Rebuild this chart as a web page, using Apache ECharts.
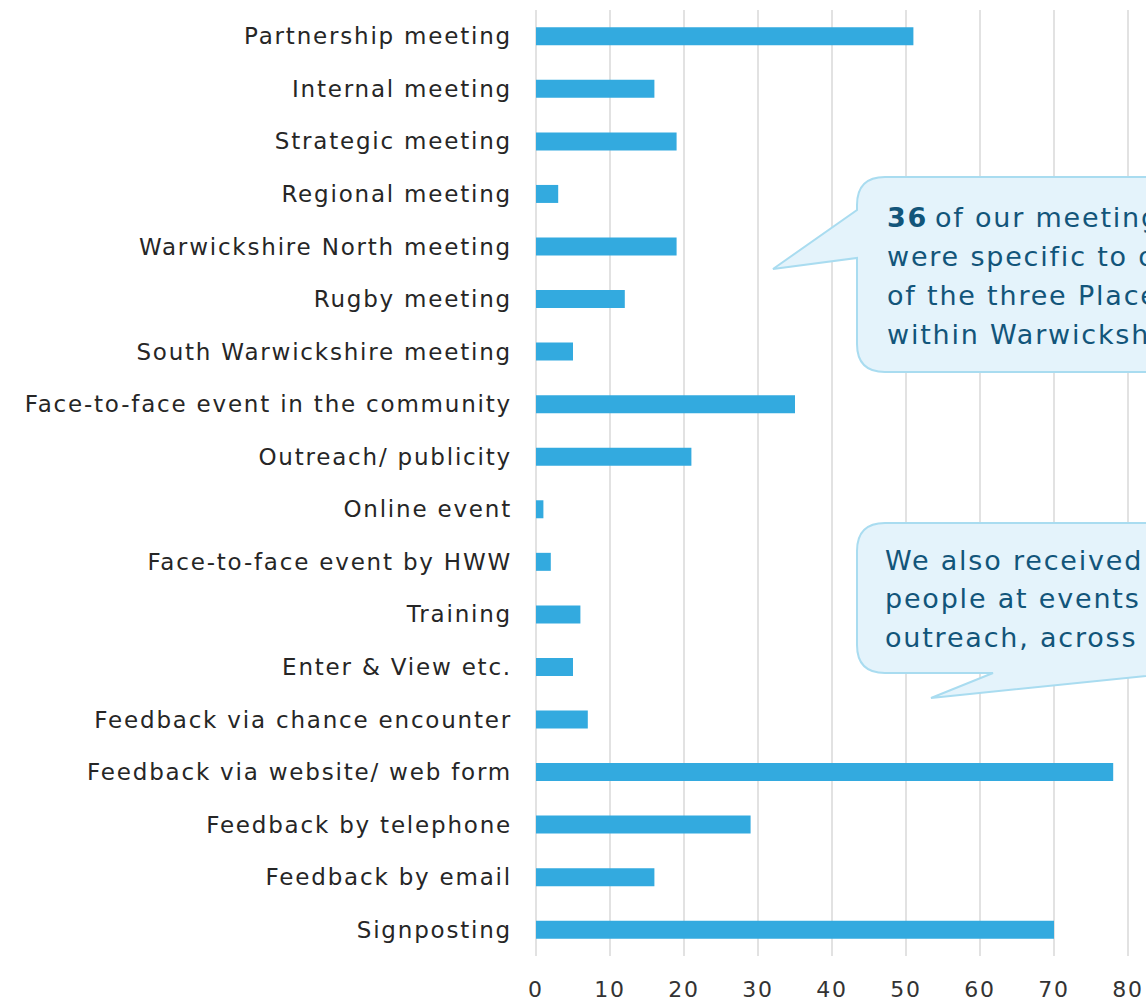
<!DOCTYPE html>
<html>
<head>
<meta charset="utf-8">
<title>Activity by type</title>
<script src="https://cdn.jsdelivr.net/npm/echarts@6/dist/echarts.min.js"></script>
<style>
  html, body { margin: 0; padding: 0; background: #fff; }
  #chart { width: 1146px; height: 1003px; }
  /* the original font is a wide geometric face, widen ours a bit */
  #chart text { letter-spacing: 1.8px; }
</style>
</head>
<body>
<div id="chart"></div>
<script>
// categories, top to bottom
const categories = [
  'Partnership meeting',
  'Internal meeting',
  'Strategic meeting',
  'Regional meeting',
  'Warwickshire North meeting',
  'Rugby meeting',
  'South Warwickshire meeting',
  'Face-to-face event in the community',
  'Outreach/ publicity',
  'Online event',
  'Face-to-face event by HWW',
  'Training',
  'Enter & View etc.',
  'Feedback via chance encounter',
  'Feedback via website/ web form',
  'Feedback by telephone',
  'Feedback by email',
  'Signposting'
]
const counts = [51, 16, 19, 3, 19, 12, 5, 35, 21, 1, 2, 6, 5, 7, 78, 29, 16, 70]

// callout texts
const note1Lines = ['{b|36} of our meetings', 'were specific to one', 'of the three Places', 'within Warwickshire']
const note2Lines = ['We also received feedback from', 'people at events and', 'outreach, across the county']

const labelFont = 'DejaVu Sans'
const calloutFill = '#e4f3fb'
const calloutBorder = '#a9dcf0'
const calloutText = '#12557a'

// speech bubble outlines (rounded box + pointer)
echarts.graphic.registerShape('bubbleTop', echarts.graphic.extendPath(
  'M 885 177 L 1300 177 L 1300 372 L 885 372 Q 857 372 857 344 L 857 258 L 773 269 L 857 210 L 857 205 Q 857 177 885 177 Z'
))
echarts.graphic.registerShape('bubbleBottom', echarts.graphic.extendPath(
  'M 885 523 L 1300 523 L 1300 673 L 1175 673 L 931 698 L 993 673 L 885 673 Q 857 673 857 645 L 857 551 Q 857 523 885 523 Z'
))

const chart = echarts.init(document.getElementById('chart'), null, { renderer: 'svg' })

const option = {
  animation: false,
  grid: {
    left: 536,
    top: 10,
    bottom: 47,
    width: 666, // axis runs to 90, past the right edge
    containLabel: false,
    outerBoundsMode: 'none'
  },
  xAxis: {
    type: 'value',
    min: 0,
    max: 90,
    interval: 10,
    axisLine: { show: false },
    axisTick: { show: false },
    axisLabel: {
      margin: 22,
      fontSize: 22,
      fontFamily: labelFont,
      color: '#333'
    },
    splitLine: {
      show: true,
      lineStyle: { color: '#d9d9d9', width: 1.5 }
    }
  },
  yAxis: {
    type: 'category',
    inverse: true,
    data: categories,
    axisLine: { show: false },
    axisTick: { show: false },
    axisLabel: {
      margin: 24,
      fontSize: 23,
      fontFamily: labelFont,
      color: '#262626'
    }
  },
  series: [{
    type: 'bar',
    data: counts,
    barWidth: 18,
    itemStyle: { color: '#33aadf' }
  }],
  graphic: [
    {
      type: 'bubbleTop',
      z: 100,
      style: { fill: calloutFill, stroke: calloutBorder, lineWidth: 2 }
    },
    {
      type: 'text',
      z: 101,
      x: 887,
      y: 198,
      style: {
        text: note1Lines.join('\n'),
        fontSize: 27,
        fontFamily: labelFont,
        lineHeight: 39,
        fill: calloutText,
        rich: {
          b: { fontSize: 27, fontWeight: 'bold', fontFamily: labelFont, fill: calloutText, lineHeight: 39 }
        }
      }
    },
    {
      type: 'bubbleBottom',
      z: 100,
      style: { fill: calloutFill, stroke: calloutBorder, lineWidth: 2 }
    },
    {
      type: 'text',
      z: 101,
      x: 885,
      y: 541,
      style: {
        text: note2Lines.join('\n'),
        fontSize: 27,
        fontFamily: labelFont,
        lineHeight: 38.5,
        fill: calloutText
      }
    }
  ]
}

chart.setOption(option)
</script>
</body>
</html>
